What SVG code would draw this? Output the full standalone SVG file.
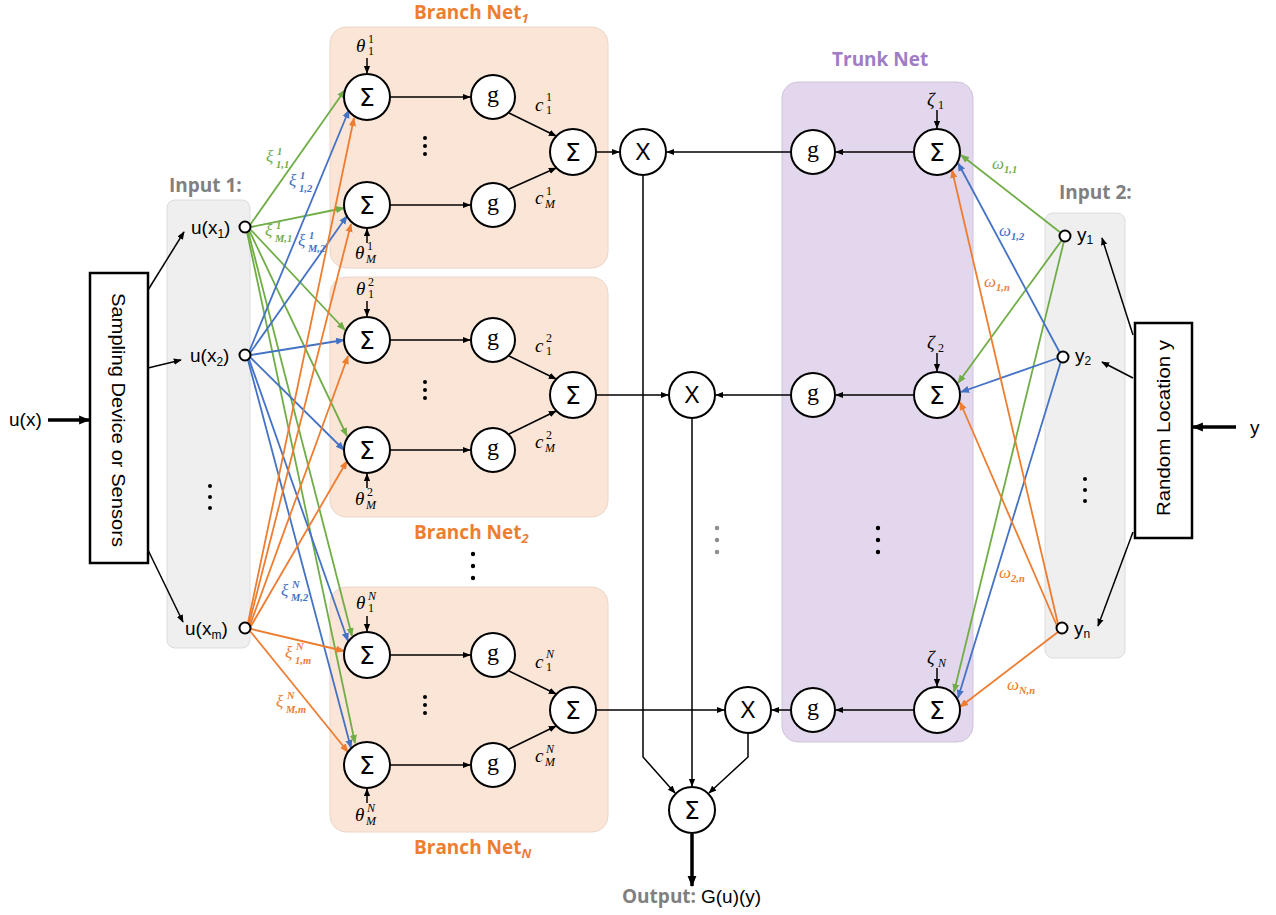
<svg xmlns="http://www.w3.org/2000/svg" width="1276" height="915" viewBox="0 0 1276 915">
<defs>
<marker id="ak" viewBox="0 0 10 10" refX="9" refY="5" markerWidth="8" markerHeight="8" markerUnits="userSpaceOnUse" orient="auto"><path d="M0,1 L10,5 L0,9 z" fill="#000"/></marker>
<marker id="akt" viewBox="0 0 10 10" refX="9" refY="5" markerWidth="11" markerHeight="11" markerUnits="userSpaceOnUse" orient="auto"><path d="M0,1 L10,5 L0,9 z" fill="#000"/></marker>
<marker id="ag" viewBox="0 0 10 10" refX="9" refY="5" markerWidth="9" markerHeight="9" markerUnits="userSpaceOnUse" orient="auto"><path d="M0,1 L10,5 L0,9 z" fill="#70AD47"/></marker>
<marker id="ab" viewBox="0 0 10 10" refX="9" refY="5" markerWidth="9" markerHeight="9" markerUnits="userSpaceOnUse" orient="auto"><path d="M0,1 L10,5 L0,9 z" fill="#4472C4"/></marker>
<marker id="ao" viewBox="0 0 10 10" refX="9" refY="5" markerWidth="9" markerHeight="9" markerUnits="userSpaceOnUse" orient="auto"><path d="M0,1 L10,5 L0,9 z" fill="#ED7D31"/></marker>
</defs>
<style>
.br{fill:#FBE5D6;stroke:#EAD6C8;stroke-width:1}
.tr{fill:#E2D7EC;stroke:#CFC2DC;stroke-width:1}
.in{fill:#EFEFEF;stroke:#DCDCDC;stroke-width:1}
.bx{fill:#fff;stroke:#000;stroke-width:2.5}
.n{fill:#fff;stroke:#000;stroke-width:2}
.sn{fill:#fff;stroke:#000;stroke-width:2}
.k{stroke:#000;stroke-width:1.5;fill:none;marker-end:url(#ak)}
.kt{stroke:#000;stroke-width:3.5;fill:none;marker-end:url(#akt)}
.g{stroke:#70AD47;stroke-width:1.8;fill:none;marker-end:url(#ag)}
.b{stroke:#4472C4;stroke-width:1.8;fill:none;marker-end:url(#ab)}
.o{stroke:#ED7D31;stroke-width:1.8;fill:none;marker-end:url(#ao)}
.sig{font-family:"DejaVu Sans","Liberation Sans",sans-serif;font-size:25px;text-anchor:middle;fill:#000}
.gg{font-family:"Liberation Serif","DejaVu Serif",serif;font-size:24px;text-anchor:middle;fill:#000}
.xx{font-family:"Liberation Sans",sans-serif;font-size:23px;text-anchor:middle;fill:#000}
.t{font-family:"Liberation Sans",sans-serif;font-size:19px;fill:#000}
.ts{font-family:"Liberation Sans",sans-serif;font-size:12px;fill:#000}
.ttl{font-family:"Open Sans","Liberation Sans",sans-serif;font-size:19px;font-weight:bold}
.or{fill:#ED7D31}
.gr{fill:#808080}
.pu{fill:#A07CC4}
.mi{font-family:"Liberation Serif","DejaVu Serif",serif;font-style:italic;font-size:19px;fill:#000}
.ms{font-family:"Liberation Serif","DejaVu Serif",serif;font-size:12px;fill:#000}
.msi{font-family:"Liberation Serif","DejaVu Serif",serif;font-style:italic;font-size:12px;fill:#000}
.cx{font-family:"Liberation Serif","DejaVu Serif",serif;font-style:italic;font-size:17px}
.cs{font-family:"Liberation Serif","DejaVu Serif",serif;font-style:italic;font-weight:bold;font-size:10.5px}
.cg{fill:#70AD47}
.cb{fill:#4472C4}
.co{fill:#ED7D31}
.dot{fill:#000}
.gdot{fill:#8C8C8C}
</style>

<g id="backgrounds">
<rect id="branch1-box" class="br" x="330" y="27" width="278" height="241" rx="16"/>
<rect id="branch2-box" class="br" x="330" y="277" width="278" height="240" rx="16"/>
<rect id="branchN-box" class="br" x="330" y="587" width="278" height="245" rx="16"/>
<rect id="trunk-box" class="tr" x="782" y="82" width="191" height="660" rx="16"/>
<rect id="input1-box" class="in" x="167" y="200" width="83" height="448" rx="8"/>
<rect id="input2-box" class="in" x="1045" y="213" width="80" height="445" rx="8"/>
</g>

<g id="titles">
<text class="ttl or" x="414" y="19">Branch Net<tspan font-size="13" font-style="italic" dy="4">1</tspan></text>
<text class="ttl or" x="414" y="539">Branch Net<tspan font-size="13" font-style="italic" dy="4">2</tspan></text>
<text class="ttl or" x="414" y="854">Branch Net<tspan font-size="13" font-style="italic" dy="4">N</tspan></text>
<text class="ttl pu" x="832" y="66">Trunk Net</text>
<text class="ttl gr" x="169" y="192">Input 1:</text>
<text class="ttl gr" x="1059" y="199">Input 2:</text>
<text class="ttl gr" x="622" y="903">Output: <tspan class="t" font-weight="normal" fill="#000" font-size="20">G(u)(y)</tspan></text>
</g>

<g id="connectors">
<line class="kt" x1="48" y1="420" x2="89" y2="420"/>
<line class="k" x1="148" y1="290" x2="184" y2="232"/>
<line class="k" x1="148" y1="368" x2="181" y2="360"/>
<line class="k" x1="148" y1="550" x2="183" y2="622"/>
<line class="kt" x1="1236" y1="427" x2="1193" y2="427"/>
<line class="k" x1="1133" y1="335" x2="1102" y2="238"/>
<line class="k" x1="1133" y1="378" x2="1102" y2="362"/>
<line class="k" x1="1133" y1="532" x2="1098" y2="626"/>
<line class="g" x1="250" y1="225" x2="345" y2="90"/>
<line class="g" x1="251" y1="227" x2="344" y2="208"/>
<line class="g" x1="250" y1="229" x2="345" y2="330"/>
<line class="g" x1="249" y1="230" x2="347" y2="436"/>
<line class="g" x1="248" y1="231" x2="352" y2="636"/>
<line class="g" x1="247" y1="232" x2="355" y2="743"/>
<line class="b" x1="249" y1="352" x2="349" y2="110"/>
<line class="b" x1="250" y1="353" x2="347" y2="216"/>
<line class="b" x1="251" y1="355" x2="344" y2="340"/>
<line class="b" x1="250" y1="357" x2="344" y2="450"/>
<line class="b" x1="249" y1="359" x2="348" y2="641"/>
<line class="b" x1="248" y1="360" x2="351" y2="748"/>
<line class="o" x1="248" y1="623" x2="354" y2="118"/>
<line class="o" x1="249" y1="624" x2="351" y2="224"/>
<line class="o" x1="250" y1="625" x2="348" y2="356"/>
<line class="o" x1="251" y1="626" x2="347" y2="461"/>
<line class="o" x1="251" y1="629" x2="344" y2="651"/>
<line class="o" x1="250" y1="631" x2="348" y2="752"/>
<line class="g" x1="1061" y1="233" x2="961" y2="155"/>
<line class="g" x1="1062" y1="240" x2="958" y2="383"/>
<line class="g" x1="1064" y1="241" x2="954" y2="692"/>
<line class="b" x1="1060" y1="353" x2="958" y2="163"/>
<line class="b" x1="1058" y1="358" x2="961" y2="392"/>
<line class="b" x1="1061" y1="361" x2="958" y2="698"/>
<line class="o" x1="1058" y1="624" x2="952" y2="170"/>
<line class="o" x1="1057" y1="626" x2="960" y2="402"/>
<line class="o" x1="1058" y1="632" x2="960" y2="707"/>
<line class="k" x1="367" y1="58" x2="367" y2="73"/>
<line class="k" x1="367" y1="243" x2="367" y2="229"/>
<line class="k" x1="390" y1="97" x2="470" y2="97"/>
<line class="k" x1="390" y1="205" x2="470" y2="205"/>
<line class="k" x1="509" y1="113" x2="556" y2="136"/>
<line class="k" x1="509" y1="189" x2="556" y2="168"/>
<line class="k" x1="596" y1="152" x2="619" y2="152"/>
<line class="k" x1="367" y1="301" x2="367" y2="316"/>
<line class="k" x1="367" y1="488" x2="367" y2="474"/>
<line class="k" x1="390" y1="340" x2="470" y2="340"/>
<line class="k" x1="390" y1="450" x2="470" y2="450"/>
<line class="k" x1="509" y1="356" x2="556" y2="379"/>
<line class="k" x1="509" y1="434" x2="556" y2="411"/>
<line class="k" x1="596" y1="395" x2="668" y2="395"/>
<line class="k" x1="367" y1="616" x2="367" y2="631"/>
<line class="k" x1="367" y1="803" x2="367" y2="789"/>
<line class="k" x1="390" y1="655" x2="470" y2="655"/>
<line class="k" x1="390" y1="765" x2="470" y2="765"/>
<line class="k" x1="509" y1="671" x2="556" y2="694"/>
<line class="k" x1="509" y1="749" x2="556" y2="726"/>
<line class="k" x1="596" y1="710" x2="724" y2="710"/>
<line class="k" x1="937" y1="110" x2="937" y2="128"/>
<line class="k" x1="937" y1="353" x2="937" y2="371"/>
<line class="k" x1="937" y1="668" x2="937" y2="686"/>
<line class="k" x1="914" y1="152" x2="836" y2="152"/>
<line class="k" x1="914" y1="395" x2="836" y2="395"/>
<line class="k" x1="914" y1="710" x2="836" y2="710"/>
<line class="k" x1="791" y1="152" x2="667" y2="152"/>
<line class="k" x1="791" y1="395" x2="716" y2="395"/>
<line class="k" x1="791" y1="710" x2="772" y2="710"/>
<polyline class="k" points="643,175 643,757 675,793"/>
<line class="k" x1="692" y1="418" x2="692" y2="786"/>
<polyline class="k" points="748,733 748,757 709,793"/>
<line class="kt" x1="692" y1="834" x2="692" y2="886"/>
</g>

<g id="sampling">
<rect class="bx" x="90" y="273" width="58" height="290"/>
<text class="t" text-anchor="middle" transform="translate(112,420) rotate(90)" textLength="254" lengthAdjust="spacingAndGlyphs">Sampling Device or Sensors</text>
<text class="t" font-size="21" x="9" y="426">u(x)</text>
</g>
<g id="random-location">
<rect class="bx" x="1135" y="323" width="57" height="215"/>
<text class="t" text-anchor="middle" transform="translate(1170,428) rotate(-90)" textLength="176" lengthAdjust="spacingAndGlyphs">Random Location y</text>
<text class="t" font-size="21" x="1250" y="434">y</text>
</g>

<g id="input1">
<circle class="sn" cx="245" cy="227" r="5.5"/>
<circle class="sn" cx="245" cy="355" r="5.5"/>
<circle class="sn" cx="245" cy="628" r="5.5"/>
<text class="t" font-size="20" x="191" y="234">u(x<tspan class="ts" dy="4">1</tspan><tspan dy="-4">)</tspan></text>
<text class="t" font-size="20" x="190" y="362">u(x<tspan class="ts" dy="4">2</tspan><tspan dy="-4">)</tspan></text>
<text class="t" font-size="20" x="185" y="635">u(x<tspan class="ts" dy="4">m</tspan><tspan dy="-4">)</tspan></text>
<circle class="dot" cx="210" cy="486" r="2"/><circle class="dot" cx="210" cy="497" r="2"/><circle class="dot" cx="210" cy="508" r="2"/>
</g>

<g id="input2">
<circle class="sn" cx="1065" cy="236" r="5.5"/>
<circle class="sn" cx="1063" cy="357" r="5.5"/>
<circle class="sn" cx="1062" cy="628" r="5.5"/>
<text class="t" x="1077" y="241">y<tspan class="ts" dy="3">1</tspan></text>
<text class="t" x="1075" y="362">y<tspan class="ts" dy="3">2</tspan></text>
<text class="t" x="1074" y="635">y<tspan class="ts" dy="3">n</tspan></text>
<circle class="dot" cx="1085" cy="479" r="2"/><circle class="dot" cx="1085" cy="490" r="2"/><circle class="dot" cx="1085" cy="501" r="2"/>
</g>

<g id="branch1">
<circle class="n" cx="367" cy="97" r="23"/><text class="sig" x="367" y="106">Σ</text>
<circle class="n" cx="493" cy="97" r="22"/><text class="gg" x="493" y="102">g</text>
<circle class="n" cx="367" cy="205" r="23"/><text class="sig" x="367" y="214">Σ</text>
<circle class="n" cx="493" cy="205" r="22"/><text class="gg" x="493" y="210">g</text>
<circle class="n" cx="573" cy="152" r="23"/><text class="sig" x="573" y="161">Σ</text>
<circle class="dot" cx="425" cy="138" r="2"/><circle class="dot" cx="425" cy="146" r="2"/><circle class="dot" cx="425" cy="154" r="2"/>
<text class="mi" x="356" y="52">θ</text><text class="ms" x="368" y="43">1</text><text class="ms" x="368" y="55">1</text>
<text class="mi" x="355" y="259">θ</text><text class="ms" x="367" y="250">1</text><text class="msi" x="366" y="263">M</text>
<text class="mi" x="535" y="111">c</text><text class="ms" x="546" y="101">1</text><text class="ms" x="546" y="114">1</text>
<text class="mi" x="535" y="204">c</text><text class="ms" x="546" y="195">1</text><text class="msi" x="545" y="208">M</text>
</g>

<g id="branch2">
<circle class="n" cx="367" cy="340" r="23"/><text class="sig" x="367" y="349">Σ</text>
<circle class="n" cx="493" cy="340" r="22"/><text class="gg" x="493" y="345">g</text>
<circle class="n" cx="367" cy="450" r="23"/><text class="sig" x="367" y="459">Σ</text>
<circle class="n" cx="493" cy="450" r="22"/><text class="gg" x="493" y="455">g</text>
<circle class="n" cx="573" cy="395" r="23"/><text class="sig" x="573" y="404">Σ</text>
<circle class="dot" cx="425" cy="382" r="2"/><circle class="dot" cx="425" cy="390" r="2"/><circle class="dot" cx="425" cy="398" r="2"/>
<text class="mi" x="356" y="295">θ</text><text class="ms" x="368" y="286">2</text><text class="ms" x="368" y="298">1</text>
<text class="mi" x="355" y="505">θ</text><text class="ms" x="367" y="496">2</text><text class="msi" x="366" y="509">M</text>
<text class="mi" x="535" y="352">c</text><text class="ms" x="546" y="342">2</text><text class="ms" x="546" y="355">1</text>
<text class="mi" x="535" y="448">c</text><text class="ms" x="546" y="439">2</text><text class="msi" x="545" y="452">M</text>
</g>

<g id="branchN">
<circle class="n" cx="367" cy="655" r="23"/><text class="sig" x="367" y="664">Σ</text>
<circle class="n" cx="493" cy="655" r="22"/><text class="gg" x="493" y="660">g</text>
<circle class="n" cx="367" cy="765" r="23"/><text class="sig" x="367" y="774">Σ</text>
<circle class="n" cx="493" cy="765" r="22"/><text class="gg" x="493" y="770">g</text>
<circle class="n" cx="573" cy="710" r="23"/><text class="sig" x="573" y="719">Σ</text>
<circle class="dot" cx="425" cy="697" r="2"/><circle class="dot" cx="425" cy="705" r="2"/><circle class="dot" cx="425" cy="713" r="2"/>
<text class="mi" x="356" y="609">θ</text><text class="msi" x="368" y="600">N</text><text class="ms" x="368" y="612">1</text>
<text class="mi" x="355" y="821">θ</text><text class="msi" x="367" y="812">N</text><text class="msi" x="366" y="825">M</text>
<text class="mi" x="535" y="668">c</text><text class="msi" x="546" y="658">N</text><text class="ms" x="546" y="671">1</text>
<text class="mi" x="535" y="762">c</text><text class="msi" x="546" y="753">N</text><text class="msi" x="545" y="766">M</text>
</g>

<g id="branch-dots">
<circle class="dot" cx="473" cy="554" r="2.2"/><circle class="dot" cx="473" cy="566" r="2.2"/><circle class="dot" cx="473" cy="578" r="2.2"/>
<circle class="gdot" cx="717" cy="528" r="2.2"/><circle class="gdot" cx="717" cy="540" r="2.2"/><circle class="gdot" cx="717" cy="552" r="2.2"/>
<circle class="dot" cx="878" cy="528" r="2.2"/><circle class="dot" cx="878" cy="540" r="2.2"/><circle class="dot" cx="878" cy="552" r="2.2"/>
</g>

<g id="trunk">
<circle class="n" cx="813" cy="152" r="22"/><text class="gg" x="813" y="157">g</text>
<circle class="n" cx="937" cy="152" r="23"/><text class="sig" x="937" y="161">Σ</text>
<circle class="n" cx="813" cy="395" r="22"/><text class="gg" x="813" y="400">g</text>
<circle class="n" cx="937" cy="395" r="23"/><text class="sig" x="937" y="404">Σ</text>
<circle class="n" cx="813" cy="710" r="22"/><text class="gg" x="813" y="715">g</text>
<circle class="n" cx="937" cy="710" r="23"/><text class="sig" x="937" y="719">Σ</text>
<text class="mi" x="927" y="106">ζ</text><text class="ms" x="938" y="109">1</text>
<text class="mi" x="927" y="349">ζ</text><text class="ms" x="938" y="352">2</text>
<text class="mi" x="927" y="664">ζ</text><text class="msi" x="938" y="667">N</text>
</g>

<g id="multipliers">
<circle class="n" cx="643" cy="152" r="23"/><text class="xx" x="643" y="160">X</text>
<circle class="n" cx="692" cy="395" r="23"/><text class="xx" x="692" y="403">X</text>
<circle class="n" cx="748" cy="710" r="23"/><text class="xx" x="748" y="718">X</text>
</g>

<g id="output">
<circle class="n" cx="692" cy="810" r="23"/><text class="sig" x="692" y="819">Σ</text>
</g>

<g id="weights">
<text class="cx cg" x="266" y="162">ξ</text><text class="cs cg" x="277" y="155">1</text><text class="cs cg" x="276" y="168">1,1</text>
<text class="cx cb" x="289" y="186">ξ</text><text class="cs cb" x="300" y="179">1</text><text class="cs cb" x="299" y="192">1,2</text>
<text class="cx cg" x="265" y="236">ξ</text><text class="cs cg" x="276" y="229">1</text><text class="cs cg" x="275" y="242">M,1</text>
<text class="cx cb" x="298" y="246">ξ</text><text class="cs cb" x="309" y="239">1</text><text class="cs cb" x="308" y="252">M,2</text>
<text class="cx cb" x="281" y="596">ξ</text><text class="cs cb" x="292" y="588">N</text><text class="cs cb" x="291" y="601">M,2</text>
<text class="cx co" x="285" y="658">ξ</text><text class="cs co" x="296" y="650">N</text><text class="cs co" x="295" y="664">1,m</text>
<text class="cx co" x="276" y="707">ξ</text><text class="cs co" x="287" y="699">N</text><text class="cs co" x="286" y="713">M,m</text>
<text class="cx cg" x="992" y="169">ω<tspan class="cs" font-style="normal" dy="4">1,1</tspan></text>
<text class="cx cb" x="999" y="236">ω<tspan class="cs" font-style="normal" dy="4">1,2</tspan></text>
<text class="cx co" x="984" y="287">ω<tspan class="cs" dy="4">1,n</tspan></text>
<text class="cx co" x="999" y="578">ω<tspan class="cs" dy="4">2,n</tspan></text>
<text class="cx co" x="1007" y="690">ω<tspan class="cs" dy="4">N,n</tspan></text>
</g>
</svg>
